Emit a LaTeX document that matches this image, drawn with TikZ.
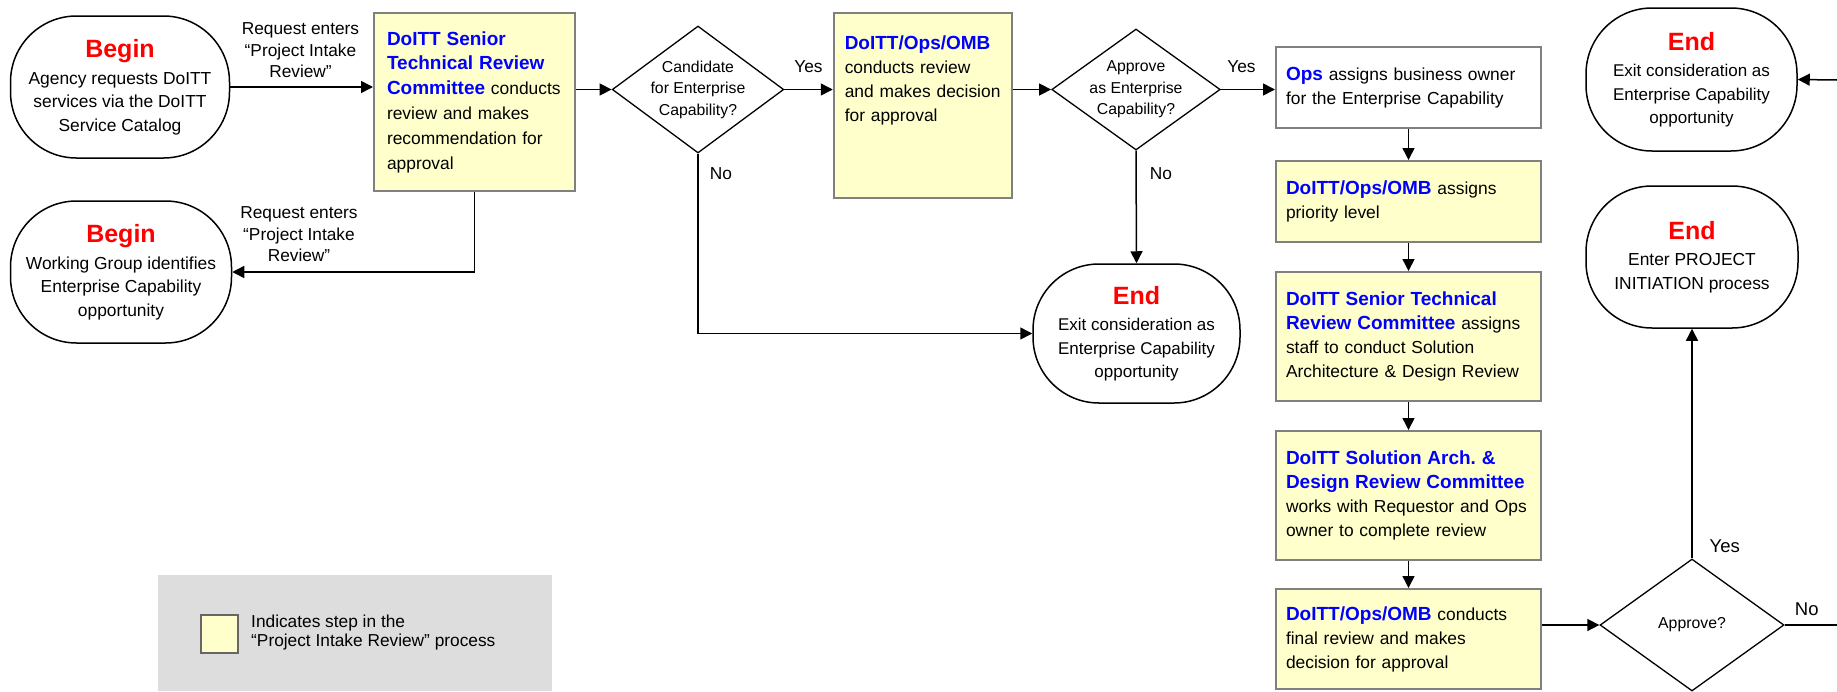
\documentclass[tikz,border=0pt]{standalone}
\usepackage{fontspec}
\setmainfont{Liberation Sans}
\usetikzlibrary{shapes.geometric,arrows.meta}
\definecolor{stepyellow}{RGB}{255,255,204}
\definecolor{boxgray}{RGB}{128,128,128}
\definecolor{legendgray}{RGB}{221,221,221}
\definecolor{whoblue}{RGB}{0,0,255}
\definecolor{termred}{RGB}{255,0,0}
\newcommand{\who}[1]{{\fontsize{19}{24}\selectfont\bfseries\color{whoblue}#1}}
\newcommand{\term}[1]{{\fontsize{25}{28}\selectfont\bfseries\color{termred}#1}}
\begin{document}
\begin{tikzpicture}[x=1pt,y=-1pt]
    \tikzstyle{every node}+=[inner sep=0pt]
    \tikzstyle{terminal}=[draw=black, line width=1.5pt, rounded corners=66pt, align=center, font=\fontsize{17.4}{23.5}\selectfont, minimum width=219pt, minimum height=142pt]
    \tikzstyle{stepbox}=[draw=boxgray, line width=2pt, fill=stepyellow, align=left, inner xsep=10pt, text width=245pt, minimum height=81pt, font=\fontsize{17.4}{24}\selectfont]
    \tikzstyle{decision}=[diamond, draw=black, line width=1.3pt, align=center, inner sep=-30pt, font=\fontsize{15.8}{21.5}\selectfont]
    \tikzstyle{note}=[align=center, font=\fontsize{17.3}{21.5}\selectfont]
    \tikzstyle{arrowline}=[line width=1.5pt, -{Triangle[length=12pt,width=12pt]}]
    \tikzstyle{plainline}=[line width=1.5pt]
    \useasboundingbox (0,0) rectangle (1837,691);
    \node [terminal] (begin1) at (120,87) {\term{Begin}\\[3pt]Agency requests DoITT\\services via the DoITT\\Service Catalog};
    \node [terminal, minimum width=221pt] (begin2) at (121,272) {\term{Begin}\\[3pt]Working Group identifies\\Enterprise Capability\\opportunity};
    \node [stepbox, text width=175pt, inner xsep=13pt, minimum height=178pt, font=\fontsize{17.4}{24.8}\selectfont] (strc) at (474.5,102) {\who{DoITT Senior}\\\who{Technical Review}\\\who{Committee} conducts\\review and makes\\recommendation for\\approval};
    \node [decision, minimum width=171.5pt, minimum height=127pt] (cand) at (698,89.5) {Candidate\\for Enterprise\\Capability?};
    \node [stepbox, inner xsep=11pt, text width=156.5pt, minimum height=185pt, font=\fontsize{17.4}{23.7}\selectfont] (omb) at (923,105.5) {\who{DoITT/Ops/OMB}\\conducts review\\and makes decision\\for approval\\[30pt]\mbox{}};
    \node [decision, minimum width=168.5pt, minimum height=121pt] (asec) at (1136,89.5) {Approve\\as Enterprise\\Capability?};
    \node [terminal, minimum width=207pt, minimum height=139pt, font=\fontsize{17}{23.5}\selectfont] (exit1) at (1136.5,333.5) {\term{End}\\[3pt]Exit consideration as\\Enterprise Capability\\opportunity};
    \node [stepbox, fill=white] (ops) at (1408.5,87.5) {\who{Ops} assigns business owner\\for the Enterprise Capability};
    \node [stepbox] (prio) at (1408.5,201.5) {\who{DoITT/Ops/OMB} assigns\\priority level};
    \node [stepbox, minimum height=129pt] (strc2) at (1408.5,336.5) {\who{DoITT Senior Technical}\\\who{Review Committee} assigns\\staff to conduct Solution\\Architecture \& Design Review};
    \node [stepbox, minimum height=129pt] (sadr) at (1408.5,495.5) {\who{DoITT Solution Arch.\ \&}\\\who{Design Review Committee}\\works with Requestor and Ops\\owner to complete review};
    \node [stepbox, minimum height=100pt] (final) at (1408.5,639) {\who{DoITT/Ops/OMB} conducts\\final review and makes\\decision for approval};
    \node [decision, minimum width=184pt, minimum height=132pt] (approve) at (1692,625) {Approve?};
    \node [terminal, minimum width=211pt, minimum height=143pt, font=\fontsize{17}{23.5}\selectfont] (exit2) at (1691.5,79.5) {\term{End}\\[3pt]Exit consideration as\\Enterprise Capability\\opportunity};
    \node [terminal, minimum width=212pt] (init) at (1692,257) {\term{End}\\[3pt]Enter PROJECT\\INITIATION process};
    \node [note] (req1) at (300.5,50.5) {Request enters\\“Project Intake\\Review”};
    \node [note] (req2) at (299,234.5) {Request enters\\“Project Intake\\Review”};
    \node [note] (yes1) at (808.5,67) {Yes};
    \node [note] (no1) at (721,174) {No};
    \node [note] (yes2) at (1241.5,67) {Yes};
    \node [note] (no2) at (1161,174) {No};
    \node [note, font=\fontsize{18.5}{21.5}\selectfont] (yes3) at (1724.7,546) {Yes};
    \node [note, font=\fontsize{18.5}{21.5}\selectfont] (no3) at (1806.7,609) {No};
    \coordinate (offright) at (1837,625);
    \coordinate (fromright) at (1837,80);
    \draw [arrowline] (begin1) -- (begin1 -| strc.west);
    \draw [arrowline] (strc.south) |- (begin2.east);
    \draw [arrowline] (cand.west -| strc.east) -- (cand.west);
    \draw [arrowline] (cand.east) -- (cand.east -| omb.west);
    \draw [arrowline] (cand.south) |- (exit1.west);
    \draw [arrowline] (asec.west -| omb.east) -- (asec.west);
    \draw [arrowline] (asec.east) -- (asec.east -| ops.west);
    \draw [arrowline] (asec.south) -- (exit1.north);
    \draw [arrowline] (ops) -- (prio);
    \draw [arrowline] (prio) -- (strc2);
    \draw [arrowline] (strc2) -- (sadr);
    \draw [arrowline] (sadr) -- (final);
    \draw [arrowline] (approve.west -| final.east) -- (approve.west);
    \draw [arrowline] (approve.north) -- (init.south);
    \draw [plainline] (approve.east) -- (offright);
    \draw [arrowline] (fromright) -- (exit2.east);
    \node [fill=legendgray, minimum width=394pt, minimum height=116pt] (legend) at (355,633) {};
    \node [draw=boxgray!80!black, line width=1.5pt, fill=stepyellow, minimum width=37pt, minimum height=38pt] (swatch) at (219.5,634) {};
    \node [anchor=west, align=left, font=\fontsize{17.3}{19}\selectfont] (legendtext) at (251,632.5) {Indicates step in the\\“Project Intake Review” process};
\end{tikzpicture}
\end{document}
